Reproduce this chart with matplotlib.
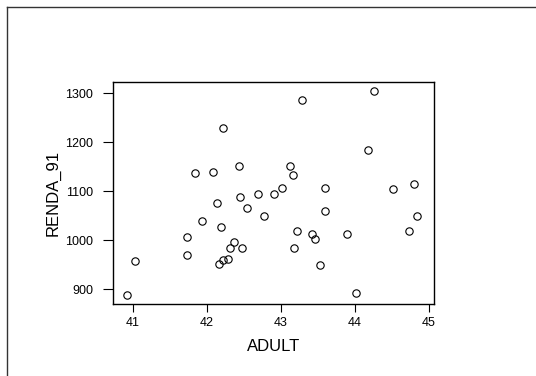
import matplotlib
matplotlib.use("Agg")
import matplotlib.pyplot as plt
from matplotlib.lines import Line2D

plt.rcParams['font.family'] = ['Liberation Sans', 'DejaVu Sans']

# Share of adult population vs. 1991 income
adult = [42.22, 41.84, 42.08, 42.43, 43.29, 44.26, 44.18, 43.12, 43.16, 43.01,
         43.60, 44.51, 44.80, 42.91, 42.13, 42.45, 42.69, 42.54, 42.77, 41.93,
         42.19, 41.73, 41.73, 42.37, 42.31, 42.47, 41.03, 42.22, 42.28, 42.16,
         40.92, 43.60, 44.84, 43.22, 44.73, 43.42, 43.46, 43.89, 43.18, 43.53,
         44.01]
renda_91 = [1229, 1137, 1140, 1152, 1286, 1304, 1184, 1151, 1133, 1107,
            1107, 1105, 1115, 1095, 1077, 1088, 1094, 1066, 1049, 1039,
            1028, 1006, 970, 997, 985, 985, 958, 960, 961, 952,
            888, 1060, 1050, 1018, 1018, 1012, 1003, 1013, 984, 949,
            893]

x_ticks = [41, 42, 43, 44, 45]
y_ticks = [900, 1000, 1100, 1200, 1300]

fig = plt.figure(figsize=(5.36, 3.76), dpi=100)
ax = fig.add_axes([112.7 / 536, 1 - 304.3 / 376, 321.0 / 536, 222.6 / 376])

ax.plot(adult, renda_91, linestyle='none', marker='o', markersize=5.3,
        markerfacecolor='none', markeredgecolor='black', markeredgewidth=0.8)

ax.set_xlim(40.726, 45.064)
ax.set_ylim(869, 1324)
ax.set_xticks(x_ticks)
ax.set_yticks(y_ticks)
ax.tick_params(axis='x', direction='out', length=5.8, width=0.8, pad=3.5,
               labelsize=9, colors='black')
ax.tick_params(axis='y', direction='out', length=7.5, width=0.8, pad=6.5,
               labelsize=9, colors='black')
for s in ax.spines.values():
    s.set_linewidth(1.0)
    s.set_color('black')

ax.set_xlabel('ADULT', fontsize=12, labelpad=7)
ax.set_ylabel('RENDA_91', fontsize=12, labelpad=3.5)

# frame around the graphics window (left and top edges)
fig.add_artist(Line2D([6.5 / 536, 6.5 / 536], [1 - 6.5 / 376, 0], transform=fig.transFigure,
                      color='#333333', linewidth=1.0))
fig.add_artist(Line2D([6.5 / 536, 1], [1 - 6.5 / 376, 1 - 6.5 / 376], transform=fig.transFigure,
                      color='#333333', linewidth=1.0))

fig.savefig('out.png', dpi=100)
